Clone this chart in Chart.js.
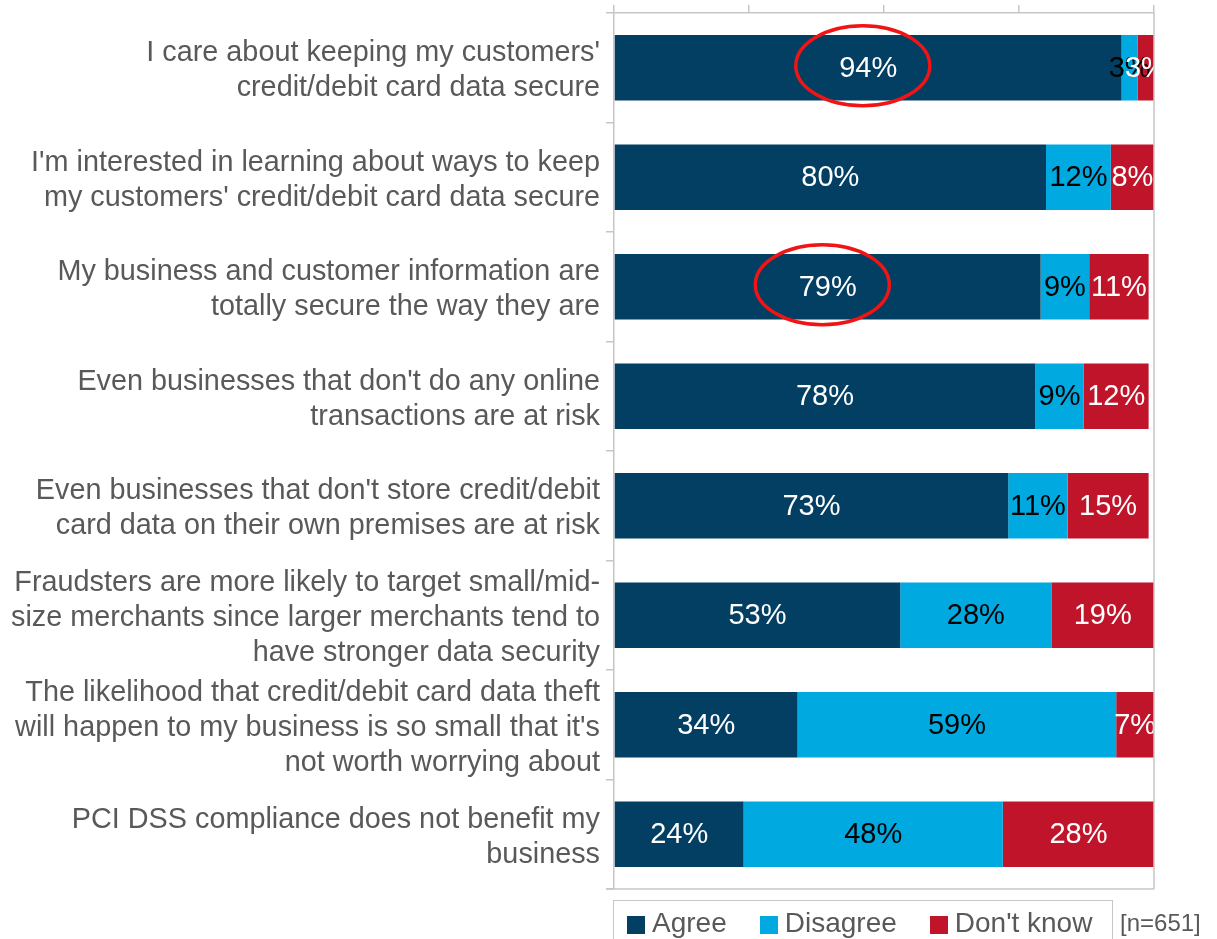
<!DOCTYPE html>
<html>
<head>
<meta charset="utf-8">
<script src="https://cdn.jsdelivr.net/npm/chart.js@4.4.1/dist/chart.umd.min.js"></script>
<style>
  html, body { margin: 0; padding: 0; background: #fff; overflow: hidden; }
  #wrap { position: relative; width: 1217px; height: 939px; }
  #legend {
    position: absolute; left: 613px; top: 900px; width: 500px; height: 60px;
    border: 1.5px solid #c6c6c6; box-sizing: border-box;
    display: flex; align-items: flex-start; padding: 6px 0 0 13px;
    font: 28px "Liberation Sans", Arial, sans-serif; color: #595959;
    white-space: nowrap;
  }
  #legend .item { display: flex; align-items: center; margin-right: 33px; height: 32px; flex: none; }
  #legend .sw { width: 18px; height: 18px; margin-right: 7px; margin-top: 4px; }
  #note {
    position: absolute; left: 1120px; top: 909px;
    font: 24px "Liberation Sans", Arial, sans-serif; color: #595959;
  }
</style>
</head>
<body>
<div id="wrap">
  <canvas id="c" width="1217" height="939"></canvas>
  <div id="legend"></div>
  <div id="note">[n=651]</div>
</div>
<script>
const statements = [
  ["I care about keeping my customers'", "credit/debit card data secure"],
  ["I'm interested in learning about ways to keep", "my customers' credit/debit card data secure"],
  ["My business and customer information are", "totally secure the way they are"],
  ["Even businesses that don't do any online", "transactions are at risk"],
  ["Even businesses that don't store credit/debit", "card data on their own premises are at risk"],
  ["Fraudsters are more likely to target small/mid-", "size merchants since larger merchants tend to", "have stronger data security"],
  ["The likelihood that credit/debit card data theft", "will happen to my business is so small that it's", "not worth worrying about"],
  ["PCI DSS compliance does not benefit my", "business"],
];
const agree = [94, 80, 79, 78, 73, 53, 34, 24];
const disagree = [3, 12, 9, 9, 11, 28, 59, 48];
const dontKnow = [3, 8, 11, 12, 15, 19, 7, 28];
const seriesNames = ['Agree', 'Disagree', "Don't know"];
const seriesColors = ['#023f62', '#00a9e0', '#c0142a'];
const labelColors = ['#ffffff', '#000000', '#ffffff'];
const circled = [0, 2]; // rows highlighted with a red ring

const FONT = '"Liberation Sans", Arial, sans-serif';
const lineCol = '#c6c6c6';

// value labels inside each segment
const barLabels = {
  id: 'barLabels',
  afterDatasetsDraw(chart) {
    const { ctx, chartArea } = chart;
    ctx.save();
    ctx.beginPath();
    ctx.rect(chartArea.left, chartArea.top, chartArea.right - chartArea.left, chartArea.bottom - chartArea.top);
    ctx.clip();
    ctx.font = '29px ' + FONT;
    ctx.textAlign = 'center';
    ctx.textBaseline = 'middle';
    chart.data.datasets.forEach((ds, i) => {
      chart.getDatasetMeta(i).data.forEach((bar, j) => {
        const x = (bar.x + bar.base) / 2;
        ctx.fillStyle = labelColors[i];
        ctx.fillText(ds.data[j] + '%', x, bar.y + 1);
      });
    });
    ctx.restore();
  }
};

// red rings round some of the "Agree" values
const rings = {
  id: 'rings',
  afterDatasetsDraw(chart) {
    const { ctx } = chart;
    const xs = chart.scales.x, ys = chart.scales.y;
    ctx.save();
    ctx.strokeStyle = '#f01414';
    ctx.lineWidth = 3.5;
    circled.forEach((i) => {
      const cx = xs.getPixelForValue(agree[i] / 2) - 5;
      const cy = ys.getPixelForValue(i) - 2;
      ctx.beginPath();
      ctx.ellipse(cx, cy, 67, 40, 0, 0, Math.PI * 2);
      ctx.stroke();
    });
    ctx.restore();
  }
};

// right and bottom frame lines
const frame = {
  id: 'frame',
  afterDraw(chart) {
    const { ctx, chartArea: a } = chart;
    ctx.save();
    ctx.strokeStyle = lineCol;
    ctx.lineWidth = 1.5;
    ctx.beginPath();
    ctx.moveTo(a.right, a.top);
    ctx.lineTo(a.right, a.bottom);
    ctx.moveTo(a.left - 8, a.bottom);
    ctx.lineTo(a.right, a.bottom);
    ctx.stroke();
    ctx.restore();
  }
};

const series = [agree, disagree, dontKnow];

new Chart(document.getElementById('c'), {
  type: 'bar',
  data: {
    labels: statements,
    datasets: series.map((d, i) => ({
      label: seriesNames[i],
      data: d,
      backgroundColor: seriesColors[i],
      borderWidth: 0,
      barPercentage: 0.6,
      categoryPercentage: 1,
    })),
  },
  options: {
    indexAxis: 'y',
    responsive: false,
    animation: false,
    layout: { padding: { left: 0, top: 0, right: 63, bottom: 50 } },
    plugins: { legend: { display: false }, tooltip: { enabled: false } },
    scales: {
      x: {
        position: 'top',
        stacked: true,
        min: 0,
        max: 100,
        ticks: { display: false, stepSize: 25 },
        grid: { drawOnChartArea: false, tickLength: 8, color: lineCol, lineWidth: 1.5 },
        border: { color: lineCol, width: 1.5 },
        afterFit: (s) => { s.height = 13; s.paddingLeft = 0; s.paddingRight = 0; },
      },
      y: {
        stacked: true,
        ticks: {
          color: '#595959',
          padding: 6,
          labelOffset: 3,
          font: { family: FONT, size: 28.8, lineHeight: 1.21 },
        },
        grid: { offset: true, drawOnChartArea: false, tickLength: 8, color: lineCol, lineWidth: 1.5 },
        border: { color: lineCol, width: 1.5 },
        afterFit: (s) => { s.width = 614; s.paddingTop = 0; s.paddingBottom = 0; },
      },
    },
  },
  plugins: [barLabels, rings, frame],
});

const legend = document.getElementById('legend');
seriesNames.forEach((name, i) => {
  const item = document.createElement('div');
  item.className = 'item';
  const sw = document.createElement('span');
  sw.className = 'sw';
  sw.style.background = seriesColors[i];
  const tx = document.createElement('span');
  tx.textContent = name;
  item.appendChild(sw);
  item.appendChild(tx);
  legend.appendChild(item);
});
</script>
</body>
</html>
